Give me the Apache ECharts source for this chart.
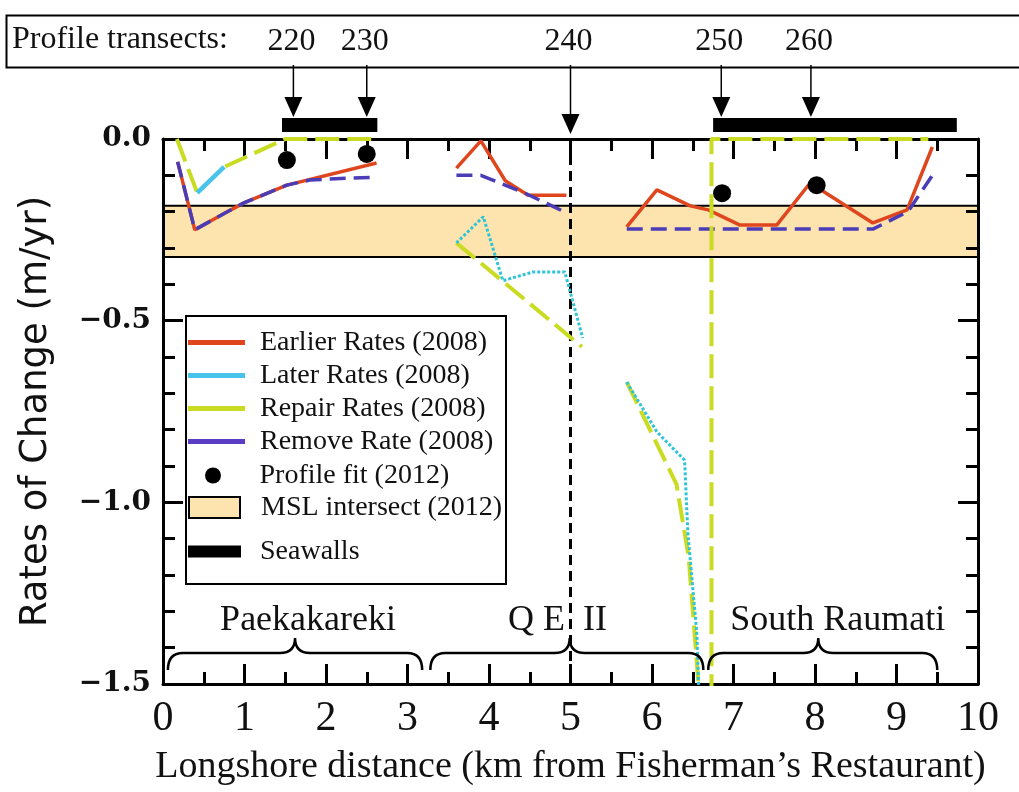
<!DOCTYPE html>
<html><head><meta charset="utf-8">
<script src="https://cdn.jsdelivr.net/npm/echarts@6/dist/echarts.min.js"></script>
<style>html,body{margin:0;padding:0;background:#fff}#c{width:1019px;height:792px}</style>
</head><body><div id="c"></div>
<script>
// ---------- data ----------
const xTickLabels = ['0','1','2','3','4','5','6','7','8','9','10'];
const yTickLabels = {'0':'0.0','-0.5':'\u22120.5','-1':'\u22121.0','-1.5':'\u22121.5'};

const earlierSeg1 = [[0.18,-0.063],[0.39,-0.25],[0.75,-0.205],[1.0,-0.175],[1.52,-0.127],[2.62,-0.066]];
const earlierSeg2 = [[3.6,-0.08],[3.9,-0.005],[4.2,-0.115],[4.48,-0.155],[4.95,-0.155]];
const earlierSeg3 = [[5.69,-0.242],[6.06,-0.14],[6.47,-0.184],[6.69,-0.195],[7.08,-0.237],[7.53,-0.237],[7.94,-0.121],[8.71,-0.231],[9.13,-0.195],[9.44,-0.022]];

const laterSeg1 = [[0.42,-0.148],[0.75,-0.077]];
const laterSeg2 = [[3.6,-0.286],[3.93,-0.214],[4.17,-0.39],[4.54,-0.366],[4.93,-0.366],[5.15,-0.548]];
const laterSeg3 = [[5.69,-0.669],[6.06,-0.806],[6.4,-0.884],[6.44,-1.085],[6.55,-1.36],[6.58,-1.55]];

const repairSeg1 = [[0.17,0],[0.42,-0.148],[0.75,-0.077],[1.5,0],[2.62,0]];
const repairSeg2 = [[3.6,-0.286],[5.14,-0.572]];
const repairSeg3 = [[5.69,-0.669],[6.3,-0.95],[6.45,-1.15],[6.57,-1.5],[6.6,-1.6],[6.73,-1.6],[6.73,0],[9.39,0]];

const removeSeg1 = [[0.18,-0.063],[0.39,-0.25],[0.75,-0.205],[1.0,-0.175],[1.52,-0.127],[1.8,-0.113],[2.05,-0.11],[2.62,-0.105]];
const removeSeg2 = [[3.6,-0.1],[3.9,-0.1],[4.45,-0.15],[4.92,-0.2]];
const removeSeg3 = [[5.69,-0.248],[8.71,-0.248],[9.14,-0.2],[9.44,-0.1]];

const profileFitX = [1.52, 2.5, 6.86, 8.02];
const profileFitY = [-0.058, -0.041, -0.149, -0.127];

const mslTop = -0.184, mslBottom = -0.325;

const seawallStart = [1.46, 6.75];
const seawallEnd = [2.63, 9.74];

const transectNames = ['220','230','240','250','260'];
const transectX = [1.6, 2.5, 5.0, 6.85, 7.95];

const regionNames = ['Paekakareki','Q E  II','South Raumati'];
const braceStart = [0.06, 3.28, 6.69];
const braceEnd = [3.18, 6.63, 9.5];
const braceMid = [1.62, 4.99, 8.04];
const regionLabelX = [1.78, 4.84, 8.28];

const dividerX = 5.0;

// ---------- names & styles ----------
const N_E = 'Earlier Rates (2008)', N_L = 'Later Rates (2008)', N_R = 'Repair Rates (2008)',
      N_M = 'Remove Rate (2008)', N_P = 'Profile fit (2012)', N_S = 'MSL intersect (2012)', N_W = 'Seawalls';
const C_E = '#e0461e', C_L = '#48c4ec', C_LD = '#30c4d8', C_R = '#c9dc22', C_M = '#4a3cb6', C_LEG_M = '#5b3cc4';
const SERIF = '"Liberation Serif","Times New Roman",serif';

function lineSeries(name, seg, color, width, type, z) {
  return {type:'line', name, data: seg, symbol:'none', showSymbol:false, color,
    lineStyle:{color, width, type, cap:'butt'}, itemStyle:{color}, z, animation:false, silent:true};
}

const series = [];
series.push({type:'custom', name:N_S, data:[[0,10,mslTop,mslBottom]], encode:{x:[0,1], y:[2,3]}, z:1, color:'#fde3ae',
  renderItem(params, api){
    const p0 = api.coord([api.value(0), api.value(2)]);
    const p1 = api.coord([api.value(1), api.value(3)]);
    return {type:'rect', shape:{x:p0[0], y:p0[1], width:p1[0]-p0[0], height:p1[1]-p0[1]},
      style:{fill:'#fde3ae', stroke:'#000', lineWidth:2}};
  }});
series.push({type:'line', data:[[dividerX,0],[dividerX,-1.5]], symbol:'none', z:3, silent:true, animation:false,
  lineStyle:{color:'#000', width:3, type:[10,6]}});
series.push(lineSeries(N_E, earlierSeg1, C_E, 3.5, 'solid', 3));
series.push(lineSeries(N_E, earlierSeg2, C_E, 3.5, 'solid', 3));
series.push(lineSeries(N_E, earlierSeg3, C_E, 3.5, 'solid', 3));
series.push(lineSeries(N_M, removeSeg1, C_M, 3.5, [16,8], 4));
series.push(lineSeries(N_M, removeSeg2, C_M, 3.5, [16,8], 4));
series.push(lineSeries(N_M, removeSeg3, C_M, 3.5, [16,8], 4));
series.push(lineSeries(N_R, repairSeg1, C_R, 4, [24,8], 5));
series.push(lineSeries(N_R, repairSeg2, C_R, 4, [24,8], 5));
series.push(lineSeries(N_R, repairSeg3, C_R, 4, [24,8], 5));
series.push(lineSeries(N_L, laterSeg1, C_L, 4.5, 'solid', 6));
series.push(lineSeries(N_L, laterSeg2, C_LD, 3, [3,2], 6));
series.push(lineSeries(N_L, laterSeg3, C_LD, 3, [3,2], 6));
series.push({type:'scatter', name:N_P, data: profileFitX.map((x,i)=>[x, profileFitY[i]]), symbol:'circle', symbolSize:18,
  itemStyle:{color:'#000', opacity:1}, color:'#000', z:7, animation:false, silent:true});
series.push({type:'custom', name:N_W, data: seawallStart.map((s,i)=>[s, seawallEnd[i]]), encode:{x:[0,1]}, z:8, color:'#000',
  renderItem(params, api){
    const p0 = api.coord([api.value(0), 0]);
    const p1 = api.coord([api.value(1), 0]);
    return {type:'rect', shape:{x:p0[0], y:p0[1]-21, width:p1[0]-p0[0], height:14}, style:{fill:'#000'}};
  }});
series.push({type:'custom', data: transectX.map((x,i)=>[x,i]), encode:{x:0}, z:8, silent:true,
  renderItem(params, api){
    const x = api.value(0), i = api.value(1);
    const p = api.coord([x, 0]);
    let onWall = false;
    for (let k=0;k<seawallStart.length;k++) if (x>=seawallStart[k] && x<=seawallEnd[k]) onWall = true;
    const tip = onWall ? p[1]-22 : p[1]-5;
    const top = p[1]-74;
    return {type:'group', children:[
      {type:'line', shape:{x1:p[0], y1:top, x2:p[0], y2:tip-18}, style:{stroke:'#000', lineWidth:1.5}},
      {type:'polygon', shape:{points:[[p[0]-9,tip-20],[p[0]+9,tip-20],[p[0],tip]]}, style:{fill:'#000'}},
      {type:'text', style:{text: transectNames[i], x:p[0]-2, y:p[1]-97, align:'center', verticalAlign:'middle',
        font:'32px '+SERIF, fill:'#111'}}
    ]};
  }});
series.push({type:'custom', data: braceStart.map((s,i)=>[s, braceEnd[i], braceMid[i], regionLabelX[i], i]), encode:{x:[0,1]}, z:8, silent:true,
  renderItem(params, api){
    const xs = api.coord([api.value(0), -1.5])[0];
    const xe = api.coord([api.value(1), -1.5])[0];
    const xm = api.coord([api.value(2), -1.5])[0];
    const xl = api.coord([api.value(3), -1.5])[0];
    const yb = api.coord([0, -1.5])[1];
    const yEnd = yb-14, yL = yb-31, yC = yb-46, r = 15;
    const d = `M${xs},${yEnd} Q${xs},${yL} ${xs+r},${yL} L${xm-r},${yL} Q${xm},${yL} ${xm},${yC} Q${xm},${yL} ${xm+r},${yL} L${xe-r},${yL} Q${xe},${yL} ${xe},${yEnd}`;
    return {type:'group', children:[
      {type:'path', shape:{pathData:d}, style:{stroke:'#000', lineWidth:2.5, fill:null}},
      {type:'text', style:{text: regionNames[api.value(4)], x:xl, y:yb-63, align:'center', verticalAlign:'middle',
        font:'36px '+SERIF, fill:'#111'}}
    ]};
  }});

const axisCommon = {
  axisLine:{onZero:false, lineStyle:{color:'#000', width:3}},
  axisTick:{inside:true, length:20, lineStyle:{color:'#000', width:3}},
  minorTick:{show:true, length:12, lineStyle:{color:'#000', width:3}},
  splitLine:{show:false}, z:2
};

const legText = {fontFamily:SERIF, fontSize:28, color:'#111', lineHeight:33};
const option = {
  animation:false,
  backgroundColor:'#fff',
  grid:{left:163, right:41, top:139, bottom:108, outerBoundsMode:'none'},
  xAxis:[
    Object.assign({}, axisCommon, {type:'value', min:0, max:10, interval:1, position:'bottom',
      minorTick:Object.assign({}, axisCommon.minorTick, {splitNumber:2}),
      axisLabel:{formatter:v=>xTickLabels[Math.round(v)], fontFamily:SERIF, fontSize:42, color:'#111', margin:14},
      name:'Longshore distance (km from Fisherman\u2019s Restaurant)', nameLocation:'middle', nameGap:64,
      nameTextStyle:{fontFamily:SERIF, fontSize:38, color:'#111'}}),
    Object.assign({}, axisCommon, {type:'value', min:0, max:10, interval:1, position:'top',
      minorTick:Object.assign({}, axisCommon.minorTick, {splitNumber:2}), axisLabel:{show:false}})
  ],
  yAxis:[
    Object.assign({}, axisCommon, {type:'value', min:-1.5, max:0, interval:0.5, position:'left',
      minorTick:Object.assign({}, axisCommon.minorTick, {splitNumber:5}),
      axisLabel:{formatter:v=>yTickLabels[String(Math.round(v*10)/10)], fontFamily:'"DejaVu Serif",serif', fontWeight:'bold',
        fontSize:28, color:'#111', margin:12},
      name:'Rates of Change (m/yr)', nameLocation:'middle', nameGap:108,
      nameTextStyle:{fontFamily:'"DejaVu Sans",sans-serif', fontSize:37, color:'#111'}}),
    Object.assign({}, axisCommon, {type:'value', min:-1.5, max:0, interval:0.5, position:'right',
      minorTick:Object.assign({}, axisCommon.minorTick, {splitNumber:5}), axisLabel:{show:false}})
  ],
  legend:[
    {orient:'vertical', left:188, top:326, padding:0, itemGap:0, itemWidth:57, itemHeight:5, icon:'rect', selectedMode:false,
      itemStyle:{borderWidth:0}, textStyle:Object.assign({padding:[0,0,0,10]}, legText), z:11,
      data:[{name:N_E, itemStyle:{color:C_E}}, {name:N_L, itemStyle:{color:C_L}}, {name:N_R, itemStyle:{color:C_R}}, {name:N_M, itemStyle:{color:C_LEG_M}}]},
    {orient:'vertical', left:205, top:459, padding:0, itemGap:0, itemWidth:57, itemHeight:16, icon:'circle', selectedMode:false,
      itemStyle:{borderWidth:0}, textStyle:Object.assign({padding:[0,0,0,13]}, legText), z:11,
      data:[{name:N_P, itemStyle:{color:'#000'}}]},
    {orient:'vertical', left:188, top:491, padding:0, itemGap:0, itemWidth:51, itemHeight:21, icon:'rect', selectedMode:false,
      textStyle:Object.assign({padding:[0,0,0,16]}, legText), z:11,
      data:[{name:N_S, itemStyle:{color:'#fde3ae', borderColor:'#000', borderWidth:2}}]},
    {orient:'vertical', left:188, top:535, padding:0, itemGap:0, itemWidth:53, itemHeight:12, icon:'rect', selectedMode:false,
      itemStyle:{borderWidth:0}, textStyle:Object.assign({padding:[0,0,0,14]}, legText), z:11,
      data:[{name:N_W, itemStyle:{color:'#000'}}]}
  ],
  graphic:[
    {type:'rect', left:185, top:315, shape:{width:320, height:268}, style:{fill:'#fff', stroke:'#000', lineWidth:2}, z:10},
    {type:'rect', left:4, top:13, shape:{width:1040, height:52}, style:{fill:null, stroke:'#000', lineWidth:2}, z:10},
    {type:'text', left:12, top:24, style:{text:'Profile transects:', font:'32px '+SERIF, fill:'#111'}, z:10}
  ],
  series
};
const chart = echarts.init(document.getElementById('c'), null, {renderer:'canvas'});
chart.setOption(option);
</script></body></html>
